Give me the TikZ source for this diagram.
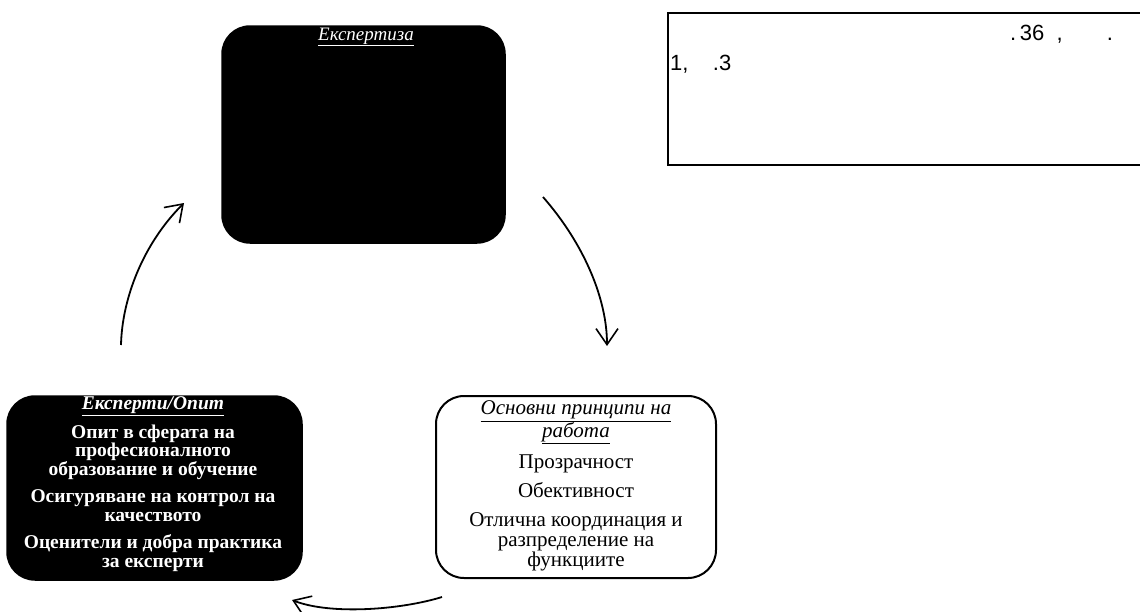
\documentclass[tikz,border=0pt]{standalone}
\usepackage{fontspec}
\setmainfont{Liberation Serif}
\newfontfamily\arialfont{Liberation Sans}
\usetikzlibrary{arrows.meta}
\tikzset{
  blackbox/.style={draw=black, fill=black, rounded corners=28pt, line width=1.5pt, inner sep=0pt},
  whitebox/.style={draw=black, fill=white, rounded corners=28pt, line width=2pt, inner sep=0pt},
  boxtext/.style={inner sep=0pt, align=center},
  notebox/.style={draw=black, line width=2.5pt, inner sep=0pt},
  cyc/.style={line width=1.8pt, -{Straight Barb[length=16pt,width=22pt,line width=1.6pt]}},
  notetext/.style={font=\arialfont\fontsize{22}{24}\selectfont, inner sep=0pt, anchor=base west},
}
\begin{document}
\begin{tikzpicture}[x=1pt,y=-1pt]
\useasboundingbox (0,0) rectangle (1140,611);
% top box
\node[blackbox, minimum width=283pt, minimum height=217pt] (top) at (363.5,134.5) {};
\node[boxtext, text=white, font=\fontsize{19}{20}\selectfont\itshape] (toptitle) at (366,37) {\underline{Експертиза}};
% note rectangle
\node[notebox, minimum width=490pt, minimum height=152pt] (note) at (913,89) {};
\node[notetext] (n1) at (1010,40) {.\,36\ \ ,\qquad .};
\node[notetext] (n2) at (670,70) {1,\ \ \ \ .3};
% left box
\node[blackbox, minimum width=295pt, minimum height=184pt] (left) at (154.5,488) {};
\node[boxtext, text=white, font=\bfseries\fontsize{19.5}{18.5}\selectfont] (lefttext) at (153,484)
{\textit{\underline{Експерти/Опит}}\\[8pt]
Опит в сферата на\\ професионалното\\ образование и обучение\\[9pt]
Осигуряване на контрол на\\ качеството\\[9pt]
Оценители и добра практика\\ за експерти};
% right box
\node[whitebox, minimum width=280pt, minimum height=182pt] (right) at (576,487) {};
\node[boxtext, font=\fontsize{21}{20}\selectfont] (righttext) at (576,486)
{\textit{\underline{Основни принципи на}}\\ \textit{\underline{работа}}\\[10pt]
Прозрачност\\[9pt]
Обективност\\[9pt]
Отлична координация и\\ разпределение на\\ функциите};
% connectors
\coordinate (a1s) at (543,197);
\coordinate (a1e) at (607,346);
\draw[cyc] (a1s) .. controls (585,245) and (607,300) .. (a1e);
\coordinate (a2s) at (442,597);
\coordinate (a2e) at (292,600);
\draw[cyc] (a2s) .. controls (400,610) and (330,615) .. (a2e);
\coordinate (a3s) at (121,345);
\coordinate (a3e) at (184,203);
\draw[cyc] (a3s) .. controls (122,300) and (142,245) .. (a3e);
\end{tikzpicture}
\end{document}
